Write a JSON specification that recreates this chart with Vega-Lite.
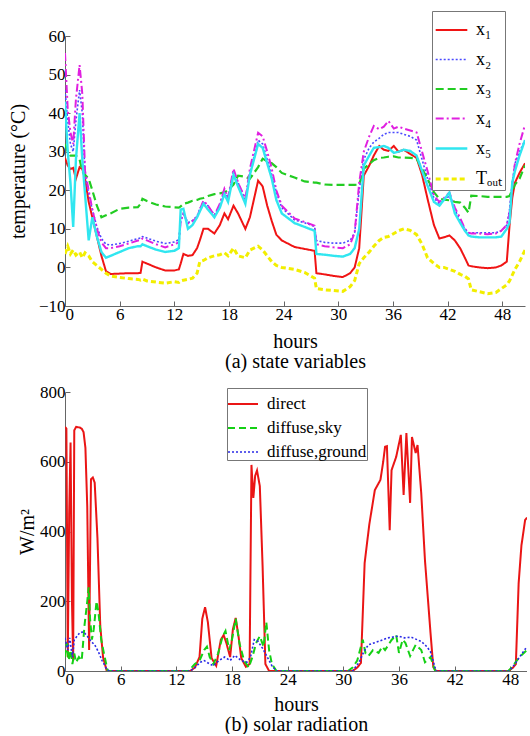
{
  "$schema": "https://vega.github.io/schema/vega-lite/v6.json",
  "background": "white",
  "padding": {"left": 8, "top": 10, "right": 0, "bottom": 0},
  "spacing": 12,
  "config": {
    "view": {"stroke": null},
    "font": "Liberation Serif",
    "axis": {"grid": false, "domainColor": "#666666", "tickColor": "#666666", "tickSize": -5, "labelFont": "Liberation Serif", "labelFontSize": 17, "labelColor": "#000000", "titleFont": "Liberation Serif", "titleFontSize": 20, "titleFontWeight": "normal", "titleColor": "#000000"},
    "axisX": {"labelPadding": 5, "titlePadding": 9},
    "axisY": {"labelPadding": 5},
    "legend": {"strokeColor": "#777777", "fillColor": "white", "labelFont": "Liberation Serif", "labelColor": "#000000", "symbolType": "stroke", "symbolStrokeWidth": 2}
  },
  "resolve": {"scale": {"color": "independent", "strokeDash": "independent", "strokeWidth": "independent"}},
  "vconcat": [
    {
      "width": 460,
      "height": 270,
      "data": {"values": [
        {"t":0,"x1":28.4,"x2":46,"x3":32,"x4":55.6,"x5":43,"Tout":3.5},
        {"t":0.3,"x1":26.4,"x2":38,"x3":30,"x4":41,"x5":30,"Tout":5.5},
        {"t":0.6,"x1":25.5,"x2":32,"x3":29,"x4":35,"x5":22,"Tout":3.5},
        {"t":0.9,"x1":25.8,"x2":30,"x3":29,"x4":32,"x5":10.5,"Tout":4.5},
        {"t":1.2,"x1":23,"x2":38,"x3":29,"x4":43.6,"x5":28,"Tout":3.2},
        {"t":1.6,"x1":26,"x2":46,"x3":28,"x4":52.5,"x5":40,"Tout":4},
        {"t":1.9,"x1":25.5,"x2":40,"x3":25,"x4":45,"x5":28,"Tout":2.5},
        {"t":2.2,"x1":23,"x2":24,"x3":24,"x4":25,"x5":19,"Tout":3.8},
        {"t":2.6,"x1":17,"x2":19,"x3":23,"x4":20,"x5":7,"Tout":3},
        {"t":3.0,"x1":13,"x2":15,"x3":20,"x4":15,"x5":13,"Tout":1.5},
        {"t":3.5,"x1":8,"x2":10.5,"x3":16,"x4":10,"x5":8,"Tout":0.5},
        {"t":4.0,"x1":3,"x2":7.5,"x3":13,"x4":6.5,"x5":4,"Tout":-0.5},
        {"t":4.5,"x1":-1,"x2":6,"x3":13.5,"x4":5,"x5":2.5,"Tout":-1.5},
        {"t":5,"x1":-1.7,"x2":5.8,"x3":14,"x4":5,"x5":3,"Tout":-2.2},
        {"t":6,"x1":-1.6,"x2":6.2,"x3":15.2,"x4":5.5,"x5":4,"Tout":-2.6},
        {"t":7,"x1":-1.5,"x2":6.8,"x3":15.5,"x4":6.2,"x5":5,"Tout":-2.9},
        {"t":8,"x1":-1.5,"x2":7.5,"x3":15.6,"x4":7,"x5":5.5,"Tout":-3.1},
        {"t":8.3,"x1":-1.4,"x2":7.6,"x3":16.5,"x4":7,"x5":5.5,"Tout":-3.3},
        {"t":8.5,"x1":1.5,"x2":8,"x3":17.8,"x4":7.5,"x5":6,"Tout":-3},
        {"t":9,"x1":1,"x2":7.6,"x3":17.2,"x4":7,"x5":5.5,"Tout":-3.5},
        {"t":10,"x1":0,"x2":6.8,"x3":16.3,"x4":6,"x5":4.6,"Tout":-3.8},
        {"t":11,"x1":-0.8,"x2":6.2,"x3":15.8,"x4":5.2,"x5":4,"Tout":-4.1},
        {"t":12,"x1":-0.8,"x2":6.6,"x3":15.6,"x4":6,"x5":4.3,"Tout":-3.7},
        {"t":12.5,"x1":-0.5,"x2":7.2,"x3":15.5,"x4":6.5,"x5":5,"Tout":-3.9},
        {"t":12.7,"x1":1,"x2":12,"x3":15.8,"x4":12,"x5":15,"Tout":-3.5},
        {"t":13.0,"x1":3.5,"x2":14,"x3":16.5,"x4":14,"x5":15.2,"Tout":-3.3},
        {"t":13.5,"x1":3,"x2":11.6,"x3":16.8,"x4":11.4,"x5":10,"Tout":-3.1},
        {"t":14,"x1":3.2,"x2":12.2,"x3":17.3,"x4":12,"x5":11,"Tout":-2.8},
        {"t":14.5,"x1":5,"x2":13.3,"x3":17.5,"x4":13,"x5":13,"Tout":-1.5},
        {"t":14.8,"x1":7,"x2":15.2,"x3":17.8,"x4":15,"x5":14.5,"Tout":1.5},
        {"t":15.2,"x1":10,"x2":17,"x3":18,"x4":17.3,"x5":16.5,"Tout":1.8},
        {"t":15.7,"x1":10,"x2":16,"x3":18.5,"x4":16,"x5":15,"Tout":2.5},
        {"t":16.4,"x1":8.8,"x2":13.6,"x3":19,"x4":13.5,"x5":13,"Tout":3},
        {"t":17,"x1":11,"x2":16.2,"x3":19.2,"x4":16.5,"x5":15.5,"Tout":3.3},
        {"t":17.5,"x1":14,"x2":20,"x3":19.5,"x4":20.4,"x5":19,"Tout":3.8},
        {"t":17.9,"x1":12.5,"x2":18,"x3":20,"x4":18,"x5":17,"Tout":3},
        {"t":18.5,"x1":16,"x2":25,"x3":21.5,"x4":25.6,"x5":24,"Tout":5},
        {"t":19,"x1":14,"x2":22,"x3":23.8,"x4":22,"x5":21,"Tout":3},
        {"t":19.8,"x1":10,"x2":17.5,"x3":23.5,"x4":17.8,"x5":16.5,"Tout":2.5},
        {"t":20.3,"x1":13,"x2":24.5,"x3":23,"x4":25.6,"x5":24,"Tout":4.5},
        {"t":21.2,"x1":22.5,"x2":33,"x3":26,"x4":34.9,"x5":32,"Tout":5.5},
        {"t":21.7,"x1":21,"x2":32,"x3":28.2,"x4":34,"x5":31,"Tout":4.5},
        {"t":22.2,"x1":16,"x2":28,"x3":27.5,"x4":30,"x5":27,"Tout":3},
        {"t":22.7,"x1":12,"x2":24,"x3":27,"x4":25.6,"x5":23,"Tout":1.5},
        {"t":23.2,"x1":8.5,"x2":19.5,"x3":26,"x4":20,"x5":17.5,"Tout":0.5},
        {"t":23.8,"x1":7,"x2":15.5,"x3":24.5,"x4":16,"x5":14,"Tout":0},
        {"t":25.2,"x1":5.3,"x2":12.3,"x3":23.3,"x4":12.7,"x5":11.5,"Tout":-0.5},
        {"t":26.3,"x1":4.8,"x2":11.6,"x3":22.3,"x4":11.8,"x5":10.5,"Tout":-1.3},
        {"t":27.4,"x1":4.3,"x2":10.6,"x3":22,"x4":10.8,"x5":9.5,"Tout":-2.8},
        {"t":27.6,"x1":-1.5,"x2":7,"x3":22,"x4":6,"x5":3.5,"Tout":-5.5},
        {"t":28.5,"x1":-1.8,"x2":6.5,"x3":21.5,"x4":5.5,"x5":3.3,"Tout":-5.8},
        {"t":29.5,"x1":-2.2,"x2":6.3,"x3":21.4,"x4":5.2,"x5":3,"Tout":-6},
        {"t":30.5,"x1":-2.5,"x2":6.3,"x3":21.4,"x4":5,"x5":2.8,"Tout":-6.2},
        {"t":31.3,"x1":-1.5,"x2":7,"x3":21.4,"x4":6,"x5":3.5,"Tout":-5},
        {"t":31.8,"x1":0,"x2":9,"x3":21.4,"x4":9,"x5":5,"Tout":-3.4},
        {"t":32.3,"x1":5,"x2":20,"x3":21.5,"x4":22,"x5":10,"Tout":1},
        {"t":32.8,"x1":23.8,"x2":28,"x3":25.6,"x4":30,"x5":26.4,"Tout":2.5},
        {"t":33.4,"x1":26.4,"x2":31,"x3":26.8,"x4":34,"x5":29,"Tout":4},
        {"t":33.9,"x1":29,"x2":32.5,"x3":27.8,"x4":36.7,"x5":31,"Tout":5.5},
        {"t":34.5,"x1":31.5,"x2":33.5,"x3":28.4,"x4":35.8,"x5":31.2,"Tout":7},
        {"t":35,"x1":30.5,"x2":34.5,"x3":28.5,"x4":36.5,"x5":31.5,"Tout":7.8},
        {"t":35.5,"x1":30.2,"x2":35,"x3":28.7,"x4":38,"x5":31,"Tout":8},
        {"t":36.1,"x1":31.5,"x2":35,"x3":28.8,"x4":36,"x5":29.7,"Tout":8.8},
        {"t":36.6,"x1":30,"x2":35,"x3":28.5,"x4":36.5,"x5":30,"Tout":9.5},
        {"t":37.2,"x1":30.5,"x2":34.5,"x3":28.5,"x4":36,"x5":30.5,"Tout":10},
        {"t":37.9,"x1":29.4,"x2":34,"x3":28.4,"x4":35.5,"x5":30.2,"Tout":9.6},
        {"t":38.6,"x1":28.4,"x2":33,"x3":28.2,"x4":35,"x5":29,"Tout":8.5},
        {"t":39.2,"x1":24,"x2":28,"x3":25.5,"x4":30,"x5":25,"Tout":6},
        {"t":39.8,"x1":17.8,"x2":23,"x3":23,"x4":25,"x5":21.2,"Tout":2.5},
        {"t":40.5,"x1":11,"x2":18,"x3":19.5,"x4":18.6,"x5":17,"Tout":1},
        {"t":41.1,"x1":7.5,"x2":16.5,"x3":17.8,"x4":17,"x5":16,"Tout":0},
        {"t":41.6,"x1":7.8,"x2":17.5,"x3":17.6,"x4":18,"x5":17.5,"Tout":0},
        {"t":42.2,"x1":8.3,"x2":18.5,"x3":17.4,"x4":19.4,"x5":19.4,"Tout":-0.5},
        {"t":42.8,"x1":7,"x2":15,"x3":17,"x4":15.5,"x5":14,"Tout":-1},
        {"t":43.4,"x1":4.9,"x2":12,"x3":16.8,"x4":12.7,"x5":11.5,"Tout":-1.8},
        {"t":43.9,"x1":2.5,"x2":10,"x3":15.5,"x4":10,"x5":9.5,"Tout":-2.3},
        {"t":44.3,"x1":0.5,"x2":9,"x3":14.2,"x4":9,"x5":8.3,"Tout":-3},
        {"t":44.6,"x1":0.3,"x2":9,"x3":18.6,"x4":8.8,"x5":8,"Tout":-5.8},
        {"t":45.5,"x1":0,"x2":9,"x3":18.5,"x4":8.8,"x5":7.8,"Tout":-6.3},
        {"t":46.4,"x1":-0.2,"x2":9,"x3":18.3,"x4":8.6,"x5":7.8,"Tout":-6.8},
        {"t":47.3,"x1":0,"x2":9,"x3":18.3,"x4":8.8,"x5":7.8,"Tout":-6.5},
        {"t":47.9,"x1":0.5,"x2":9.5,"x3":18.3,"x4":9.5,"x5":8,"Tout":-5.5},
        {"t":48.5,"x1":1.5,"x2":11,"x3":18.3,"x4":11,"x5":10,"Tout":-4.5},
        {"t":48.8,"x1":10.8,"x2":15,"x3":18.5,"x4":14,"x5":11.6,"Tout":-3.5},
        {"t":49.1,"x1":18,"x2":22,"x3":20,"x4":21,"x5":22,"Tout":-2},
        {"t":49.4,"x1":22,"x2":27,"x3":21.5,"x4":27,"x5":25,"Tout":-0.5},
        {"t":49.9,"x1":24.5,"x2":30,"x3":23,"x4":32,"x5":29,"Tout":1.5},
        {"t":50.5,"x1":27,"x2":33,"x3":26.5,"x4":37,"x5":33,"Tout":4.5}
      ]},
      "transform": [{"fold": ["x1", "x2", "x3", "x4", "x5", "Tout"], "as": ["series", "value"]}],
      "mark": {"type": "line", "clip": true},
      "encoding": {
        "x": {"field": "t", "type": "quantitative", "scale": {"domain": [0, 50.5], "nice": false, "zero": false},
              "axis": {"values": [0, 6, 12, 18, 24, 30, 36, 42, 48], "title": ["hours", "(a) state variables"], "titleLineHeight": 20}},
        "y": {"field": "value", "type": "quantitative", "scale": {"domain": [-10, 60], "nice": false, "zero": false},
              "axis": {"values": [-10, 0, 10, 20, 30, 40, 50, 60], "title": "temperature (°C)", "titlePadding": 10}},
        "color": {"field": "series", "type": "nominal",
                  "scale": {"domain": ["x1", "x2", "x3", "x4", "x5", "Tout"], "range": ["#f01414", "#4a4aff", "#22cc22", "#e020e0", "#30e6f0", "#f2ee00"]},
                  "legend": {"title": null, "orient": "none", "legendX": 367, "legendY": -25, "padding": 2, "labelFontSize": 18, "symbolSize": 1000, "rowPadding": 3.5, "labelOffset": 7,
                             "labelExpr": "{'x1':'x₁','x2':'x₂','x3':'x₃','x4':'x₄','x5':'x₅','Tout':'Tₒᵤₜ'}[datum.label]"}},
        "strokeDash": {"field": "series", "type": "nominal",
                       "scale": {"domain": ["x1", "x2", "x3", "x4", "x5", "Tout"], "range": [[1, 0], [2, 2], [8, 4], [8, 3, 2, 3], [1, 0], [5, 3]]},
                       "legend": {"title": null, "orient": "none", "legendX": 367, "legendY": -25, "padding": 2, "labelFontSize": 18, "symbolSize": 1000, "rowPadding": 3.5, "labelOffset": 7,
                                  "labelExpr": "{'x1':'x₁','x2':'x₂','x3':'x₃','x4':'x₄','x5':'x₅','Tout':'Tₒᵤₜ'}[datum.label]"}},
        "strokeWidth": {"field": "series", "type": "nominal",
                        "scale": {"type": "ordinal", "domain": ["x1", "x2", "x3", "x4", "x5", "Tout"], "range": [2, 1.6, 2.2, 2, 2.4, 3]}, "legend": null}
      }
    },
    {
      "width": 462,
      "height": 279,
      "data": {"values": [
        {"t":0,"s":"direct","v":700},{"t":0.15,"s":"direct","v":695},{"t":0.3,"s":"direct","v":40},{"t":0.45,"s":"direct","v":450},
        {"t":0.6,"s":"direct","v":655},{"t":0.75,"s":"direct","v":200},{"t":0.88,"s":"direct","v":30},{"t":1.0,"s":"direct","v":690},
        {"t":1.2,"s":"direct","v":700},{"t":1.6,"s":"direct","v":698},{"t":1.8,"s":"direct","v":695},{"t":2.0,"s":"direct","v":685},
        {"t":2.2,"s":"direct","v":640},{"t":2.4,"s":"direct","v":470},{"t":2.6,"s":"direct","v":60},{"t":2.8,"s":"direct","v":550},
        {"t":3.0,"s":"direct","v":555},{"t":3.2,"s":"direct","v":540},{"t":3.5,"s":"direct","v":380},{"t":3.8,"s":"direct","v":130},
        {"t":4.1,"s":"direct","v":40},{"t":4.5,"s":"direct","v":0},{"t":13.5,"s":"direct","v":0},{"t":14.0,"s":"direct","v":10},
        {"t":14.5,"s":"direct","v":40},{"t":14.8,"s":"direct","v":150},{"t":15.1,"s":"direct","v":183},{"t":15.4,"s":"direct","v":140},
        {"t":15.8,"s":"direct","v":37},{"t":16.3,"s":"direct","v":15},{"t":16.8,"s":"direct","v":90},{"t":17.1,"s":"direct","v":103},
        {"t":17.4,"s":"direct","v":80},{"t":17.8,"s":"direct","v":40},{"t":18.1,"s":"direct","v":120},{"t":18.4,"s":"direct","v":152},
        {"t":18.7,"s":"direct","v":100},{"t":19.0,"s":"direct","v":37},{"t":19.5,"s":"direct","v":12},{"t":19.9,"s":"direct","v":20},
        {"t":20.1,"s":"direct","v":591},{"t":20.3,"s":"direct","v":496},{"t":20.5,"s":"direct","v":560},{"t":20.7,"s":"direct","v":575},
        {"t":21.0,"s":"direct","v":530},{"t":21.3,"s":"direct","v":300},{"t":21.6,"s":"direct","v":20},{"t":22,"s":"direct","v":0},
        {"t":31.0,"s":"direct","v":0},{"t":31.5,"s":"direct","v":10},{"t":31.9,"s":"direct","v":23},{"t":32.3,"s":"direct","v":310},
        {"t":32.8,"s":"direct","v":420},{"t":33.4,"s":"direct","v":519},{"t":34.0,"s":"direct","v":548},{"t":34.3,"s":"direct","v":600},
        {"t":34.5,"s":"direct","v":643},{"t":34.7,"s":"direct","v":645},{"t":35.0,"s":"direct","v":404},{"t":35.2,"s":"direct","v":576},
        {"t":35.7,"s":"direct","v":614},{"t":36.2,"s":"direct","v":677},{"t":36.5,"s":"direct","v":505},{"t":36.8,"s":"direct","v":682},
        {"t":37.2,"s":"direct","v":482},{"t":37.4,"s":"direct","v":671},{"t":37.8,"s":"direct","v":625},{"t":38.0,"s":"direct","v":648},
        {"t":38.4,"s":"direct","v":510},{"t":38.8,"s":"direct","v":318},{"t":39.4,"s":"direct","v":109},{"t":39.7,"s":"direct","v":11},
        {"t":40,"s":"direct","v":0},{"t":47.8,"s":"direct","v":0},{"t":48.3,"s":"direct","v":10},{"t":48.6,"s":"direct","v":20},
        {"t":48.9,"s":"direct","v":252},{"t":49.2,"s":"direct","v":360},{"t":49.6,"s":"direct","v":433},{"t":49.8,"s":"direct","v":440},
        {"t":0,"s":"diffuse,sky","v":40},{"t":0.2,"s":"diffuse,sky","v":80},{"t":0.4,"s":"diffuse,sky","v":30},{"t":0.6,"s":"diffuse,sky","v":60},
        {"t":0.8,"s":"diffuse,sky","v":20},{"t":1.0,"s":"diffuse,sky","v":50},{"t":1.2,"s":"diffuse,sky","v":25},{"t":1.5,"s":"diffuse,sky","v":40},
        {"t":1.8,"s":"diffuse,sky","v":30},{"t":2.1,"s":"diffuse,sky","v":130},{"t":2.4,"s":"diffuse,sky","v":200},{"t":2.55,"s":"diffuse,sky","v":240},
        {"t":2.7,"s":"diffuse,sky","v":150},{"t":2.9,"s":"diffuse,sky","v":90},{"t":3.1,"s":"diffuse,sky","v":120},{"t":3.4,"s":"diffuse,sky","v":200},
        {"t":3.6,"s":"diffuse,sky","v":170},{"t":3.9,"s":"diffuse,sky","v":90},{"t":4.2,"s":"diffuse,sky","v":50},{"t":4.6,"s":"diffuse,sky","v":0},
        {"t":13.3,"s":"diffuse,sky","v":0},{"t":14,"s":"diffuse,sky","v":20},{"t":14.5,"s":"diffuse,sky","v":30},{"t":15,"s":"diffuse,sky","v":60},
        {"t":15.3,"s":"diffuse,sky","v":70},{"t":15.6,"s":"diffuse,sky","v":40},{"t":16,"s":"diffuse,sky","v":20},{"t":16.5,"s":"diffuse,sky","v":50},
        {"t":17,"s":"diffuse,sky","v":100},{"t":17.3,"s":"diffuse,sky","v":115},{"t":17.7,"s":"diffuse,sky","v":60},{"t":18.0,"s":"diffuse,sky","v":90},
        {"t":18.4,"s":"diffuse,sky","v":150},{"t":18.8,"s":"diffuse,sky","v":80},{"t":19.3,"s":"diffuse,sky","v":30},{"t":19.8,"s":"diffuse,sky","v":10},
        {"t":20.2,"s":"diffuse,sky","v":40},{"t":20.6,"s":"diffuse,sky","v":80},{"t":21,"s":"diffuse,sky","v":100},{"t":21.4,"s":"diffuse,sky","v":70},
        {"t":21.7,"s":"diffuse,sky","v":140},{"t":22,"s":"diffuse,sky","v":60},{"t":22.3,"s":"diffuse,sky","v":20},{"t":22.8,"s":"diffuse,sky","v":0},
        {"t":30.5,"s":"diffuse,sky","v":0},{"t":31,"s":"diffuse,sky","v":10},{"t":31.5,"s":"diffuse,sky","v":30},{"t":31.8,"s":"diffuse,sky","v":60},
        {"t":32.1,"s":"diffuse,sky","v":90},{"t":32.4,"s":"diffuse,sky","v":50},{"t":32.7,"s":"diffuse,sky","v":43},{"t":33.2,"s":"diffuse,sky","v":60},
        {"t":33.8,"s":"diffuse,sky","v":52},{"t":34.2,"s":"diffuse,sky","v":70},{"t":34.5,"s":"diffuse,sky","v":60},{"t":35.2,"s":"diffuse,sky","v":89},
        {"t":35.7,"s":"diffuse,sky","v":103},{"t":36,"s":"diffuse,sky","v":52},{"t":36.4,"s":"diffuse,sky","v":90},{"t":36.7,"s":"diffuse,sky","v":80},
        {"t":37.2,"s":"diffuse,sky","v":43},{"t":37.8,"s":"diffuse,sky","v":75},{"t":38.4,"s":"diffuse,sky","v":60},{"t":38.8,"s":"diffuse,sky","v":25},
        {"t":39.4,"s":"diffuse,sky","v":40},{"t":39.9,"s":"diffuse,sky","v":0},{"t":47.8,"s":"diffuse,sky","v":0},{"t":48.3,"s":"diffuse,sky","v":15},
        {"t":48.7,"s":"diffuse,sky","v":30},{"t":49,"s":"diffuse,sky","v":40},{"t":49.4,"s":"diffuse,sky","v":50},{"t":49.8,"s":"diffuse,sky","v":60},
        {"t":0,"s":"diffuse,ground","v":95},{"t":0.3,"s":"diffuse,ground","v":60},{"t":0.5,"s":"diffuse,ground","v":95},{"t":0.8,"s":"diffuse,ground","v":40},
        {"t":1.0,"s":"diffuse,ground","v":90},{"t":1.3,"s":"diffuse,ground","v":100},{"t":1.6,"s":"diffuse,ground","v":110},{"t":2.0,"s":"diffuse,ground","v":112},
        {"t":2.4,"s":"diffuse,ground","v":100},{"t":2.8,"s":"diffuse,ground","v":85},{"t":3.2,"s":"diffuse,ground","v":75},{"t":3.6,"s":"diffuse,ground","v":55},
        {"t":4.0,"s":"diffuse,ground","v":30},{"t":4.5,"s":"diffuse,ground","v":5},{"t":4.8,"s":"diffuse,ground","v":0},{"t":13.5,"s":"diffuse,ground","v":0},
        {"t":14,"s":"diffuse,ground","v":10},{"t":14.6,"s":"diffuse,ground","v":25},{"t":15,"s":"diffuse,ground","v":30},{"t":15.6,"s":"diffuse,ground","v":20},
        {"t":16,"s":"diffuse,ground","v":15},{"t":16.6,"s":"diffuse,ground","v":30},{"t":17.2,"s":"diffuse,ground","v":40},{"t":17.8,"s":"diffuse,ground","v":30},
        {"t":18.3,"s":"diffuse,ground","v":45},{"t":19,"s":"diffuse,ground","v":30},{"t":19.6,"s":"diffuse,ground","v":25},{"t":20.0,"s":"diffuse,ground","v":40},
        {"t":20.4,"s":"diffuse,ground","v":90},{"t":20.8,"s":"diffuse,ground","v":85},{"t":21.3,"s":"diffuse,ground","v":65},{"t":21.8,"s":"diffuse,ground","v":40},
        {"t":22.3,"s":"diffuse,ground","v":15},{"t":22.8,"s":"diffuse,ground","v":0},{"t":31,"s":"diffuse,ground","v":0},{"t":31.7,"s":"diffuse,ground","v":25},
        {"t":32.2,"s":"diffuse,ground","v":55},{"t":32.7,"s":"diffuse,ground","v":75},{"t":33.8,"s":"diffuse,ground","v":85},{"t":34.8,"s":"diffuse,ground","v":95},
        {"t":35.9,"s":"diffuse,ground","v":100},{"t":36.6,"s":"diffuse,ground","v":95},{"t":37.3,"s":"diffuse,ground","v":97},{"t":38.4,"s":"diffuse,ground","v":85},
        {"t":39.0,"s":"diffuse,ground","v":70},{"t":39.4,"s":"diffuse,ground","v":55},{"t":40,"s":"diffuse,ground","v":0},{"t":47.9,"s":"diffuse,ground","v":0},
        {"t":48.5,"s":"diffuse,ground","v":20},{"t":49,"s":"diffuse,ground","v":40},{"t":49.4,"s":"diffuse,ground","v":55},{"t":49.8,"s":"diffuse,ground","v":70}
      ]},
      "mark": {"type": "line", "clip": true},
      "encoding": {
        "x": {"field": "t", "type": "quantitative", "scale": {"domain": [0, 49.8], "nice": false, "zero": false},
              "axis": {"values": [0, 6, 12, 18, 24, 30, 36, 42, 48], "title": ["hours", "(b) solar radiation"], "titleLineHeight": 20, "titlePadding": 7}},
        "y": {"field": "v", "type": "quantitative", "scale": {"domain": [0, 800], "nice": false},
              "axis": {"values": [0, 200, 400, 600, 800], "title": "W/m²", "titlePadding": 2}},
        "color": {"field": "s", "type": "nominal",
                  "scale": {"domain": ["direct", "diffuse,sky", "diffuse,ground"], "range": ["#ea1515", "#14d014", "#2a2ae6"]},
                  "legend": {"title": null, "orient": "none", "legendX": 162, "legendY": -4, "padding": 0, "labelFontSize": 17, "symbolSize": 900, "rowPadding": -5, "labelOffset": 8}},
        "strokeDash": {"field": "s", "type": "nominal",
                       "scale": {"domain": ["direct", "diffuse,sky", "diffuse,ground"], "range": [[1, 0], [7, 4], [2, 2]]},
                       "legend": {"title": null, "orient": "none", "legendX": 162, "legendY": -4, "padding": 0, "labelFontSize": 17, "symbolSize": 900, "rowPadding": -5, "labelOffset": 8}},
        "strokeWidth": {"field": "s", "type": "nominal",
                        "scale": {"type": "ordinal", "domain": ["direct", "diffuse,sky", "diffuse,ground"], "range": [2, 2, 1.6]}, "legend": null}
      }
    }
  ]
}
